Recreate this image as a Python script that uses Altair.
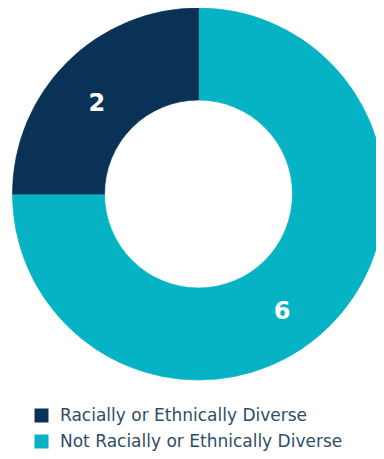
import altair as alt
import pandas as pd

categories = ["Not Racially or Ethnically Diverse", "Racially or Ethnically Diverse"]
values = [6, 2]
draw_order = [1, 2]
legend_order = ["Racially or Ethnically Diverse", "Not Racially or Ethnically Diverse"]
colors = ["#0a3256", "#06b3c4"]

df = pd.DataFrame({"cat": categories, "value": values, "ord": draw_order})

base = alt.Chart(df).encode(
    theta=alt.Theta("value:Q", stack=True),
    order=alt.Order("ord:Q"),
    x=alt.value(190.5),
    y=alt.value(186),
)

color_scale = alt.Scale(domain=legend_order, range=colors)

arcs = base.mark_arc(outerRadius=186, innerRadius=94, strokeWidth=0.7).encode(
    color=alt.Color(
        "cat:N",
        scale=color_scale,
        legend=alt.Legend(
            title=None,
            orient="none",
            legendX=25,
            legendY=399,
            symbolType="square",
            symbolSize=196,
            symbolStrokeWidth=0,
            labelFont="DejaVu Sans",
            labelFontSize=17,
            labelColor="#2f4d66",
            labelOffset=10,
            rowPadding=8,
            labelLimit=400,
        ),
    ),
    stroke=alt.Stroke("cat:N", scale=color_scale, legend=None),
)

label_style = dict(font="DejaVu Sans", fontSize=24, fontWeight="bold", color="white")

label_small = (
    base.transform_calculate(
        lbl="datum.cat == 'Racially or Ethnically Diverse' ? '' + datum.value : ''"
    )
    .mark_text(radius=136, thetaOffset=-0.06, **label_style)
    .encode(text="lbl:N")
)

label_big = (
    base.transform_calculate(
        lbl="datum.cat == 'Not Racially or Ethnically Diverse' ? '' + datum.value : ''"
    )
    .mark_text(radius=145, thetaOffset=0.17, **label_style)
    .encode(text="lbl:N")
)

chart = (
    alt.layer(arcs, label_small, label_big)
    .properties(width=368, height=443, autosize="none", padding=0)
    .configure_view(stroke=None)
)

chart.save("out.html", embed_options={"renderer": "svg", "actions": False})
